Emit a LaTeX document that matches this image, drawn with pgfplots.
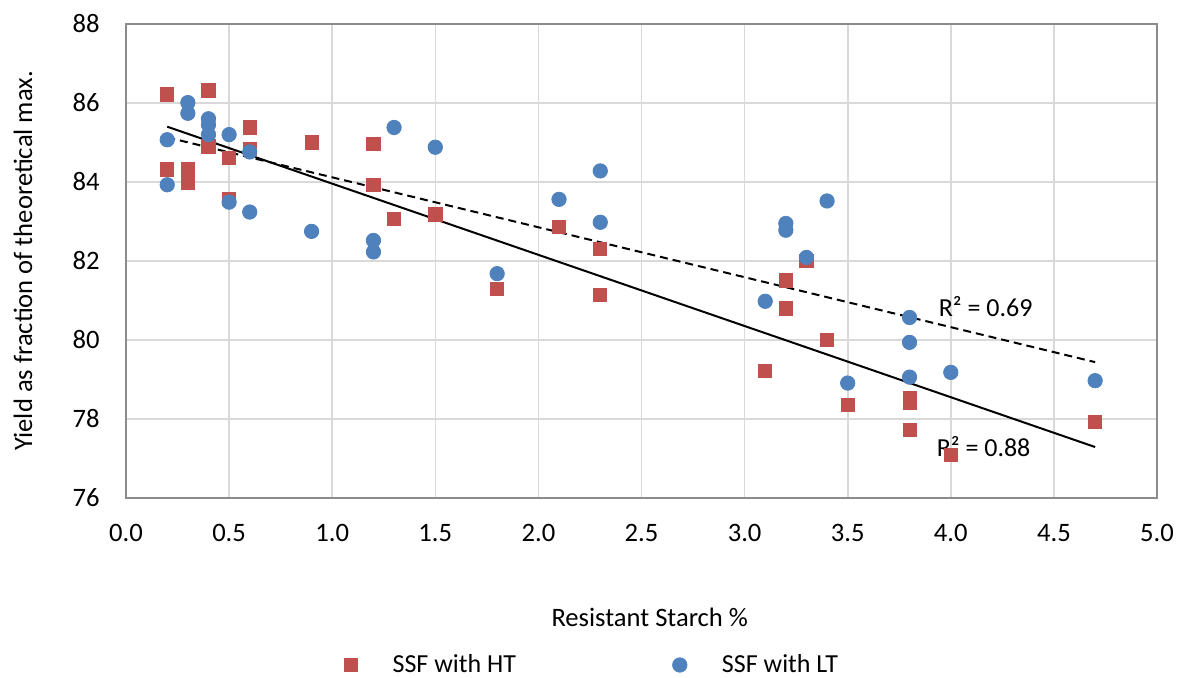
\documentclass[border=0pt]{standalone}
\usepackage{pgfplots}
\pgfplotsset{compat=1.18}
\usepackage{fontspec}
\setmainfont{Carlito}
\definecolor{htred}{HTML}{C0504D}
\definecolor{ltblue}{HTML}{4F81BD}
\definecolor{gridgray}{HTML}{D9D9D9}
\definecolor{framegray}{HTML}{8C8C8C}
\pgfplotstableread{
x y
0.2 86.22
0.2 84.32
0.3 84.32
0.3 83.98
0.4 86.32
0.4 84.90
0.5 84.62
0.5 83.58
0.6 85.38
0.6 84.83
0.9 85.00
1.2 84.96
1.2 83.92
1.3 83.06
1.5 83.18
1.8 81.30
2.1 82.87
2.3 82.30
2.3 81.15
3.1 79.21
3.2 81.51
3.2 80.80
3.3 82.00
3.4 80.00
3.5 78.35
3.8 78.53
3.8 78.40
3.8 77.72
4.0 77.09
4.7 77.92
}\htdata
\pgfplotstableread{
x y
0.2 85.07
0.2 83.93
0.3 86.01
0.3 85.74
0.4 85.60
0.4 85.45
0.4 85.20
0.5 85.20
0.5 83.49
0.6 84.76
0.6 83.24
0.9 82.75
1.2 82.52
1.2 82.23
1.3 85.38
1.5 84.88
1.8 81.68
2.1 83.56
2.3 84.28
2.3 82.98
3.1 80.98
3.2 82.95
3.2 82.78
3.3 82.09
3.4 83.52
3.5 78.91
3.8 80.57
3.8 79.94
3.8 79.06
4.0 79.18
4.7 78.97
}\ltdata
\begin{document}
\begin{tikzpicture}
\begin{axis}[
  scale only axis,
  width=515.5bp, height=237bp,
  xmin=0, xmax=5, ymin=76, ymax=88,
  xtick={0,0.5,...,5}, ytick={76,78,...,88},
  x tick label style={/pgf/number format/fixed,/pgf/number format/fixed zerofill,/pgf/number format/precision=1, anchor=center, inner sep=0pt, yshift=-17.5bp},
  y tick label style={anchor=east, inner sep=0pt, xshift=-13bp},
  /pgf/number format/assume math mode=true,
  tick label style={font=\fontsize{13.3bp}{15bp}\selectfont},
  major tick length=0pt,
  grid=major,
  major grid style={gridgray, line width=0.8bp},
  axis line style={framegray, line width=0.9bp},
  xlabel={Resistant Starch \%},
  ylabel={Yield as fraction of theoretical max.},
  xlabel style={at={(axis description cs:0.508,-0.252)}, anchor=center, inner sep=0pt, font=\fontsize{13.3bp}{15bp}\selectfont},
  ylabel style={at={(axis description cs:-0.0999,0.5)}, anchor=center, inner sep=0pt, font=\fontsize{13.3bp}{15bp}\selectfont},
  clip=false,
  legend columns=2,
  legend style={draw=none, fill=none, at={(axis description cs:0,0)}, anchor=west,
    xshift=109bp, yshift=-83.5bp, inner sep=0pt,
    font=\fontsize{13bp}{15bp}\selectfont,
    nodes={inner sep=0pt},
    /tikz/every odd column/.append style={column sep=17.5bp}},
  legend image code/.code={\draw[#1] plot coordinates {(0bp,0bp)};},
]
\addplot[only marks, mark=square*, mark size=3.3bp, color=htred] table[x=x,y=y]{\htdata};
\addlegendentry{\makebox[140bp][l]{SSF with HT}}
\addplot[only marks, mark=*, mark size=3.6bp, color=ltblue] table[x=x,y=y]{\ltdata};
\addlegendentry{SSF with LT}
\addplot[black, line width=1bp, forget plot] coordinates {(0.2,85.40) (4.7,77.29)};
\addplot[black, line width=1bp, dash pattern=on 4bp off 2.5bp, forget plot] coordinates {(0.2,85.13) (4.7,79.44)};
\node[anchor=west, inner sep=0pt, font=\fontsize{13bp}{15bp}\selectfont] at (axis cs:3.94,80.84) {R² = 0.69};
\node[anchor=west, inner sep=0pt, font=\fontsize{13bp}{15bp}\selectfont] at (axis cs:3.93,77.29) {R² = 0.88};
\end{axis}
\pgfresetboundingbox
\path (-63bp,-90bp) rectangle (526.5bp,249bp);
\end{tikzpicture}
\end{document}
